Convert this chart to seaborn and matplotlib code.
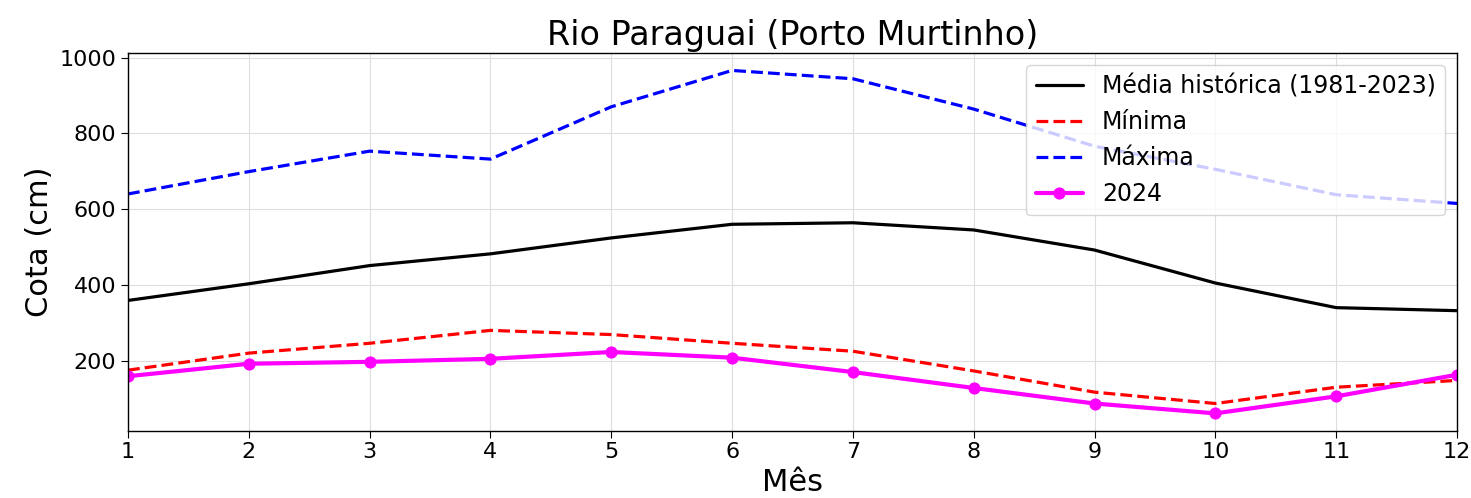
import matplotlib
matplotlib.use("Agg")
import matplotlib.pyplot as plt
import numpy as np
import pandas as pd
import seaborn as sns

# Monthly water level (cm) at Porto Murtinho
meses = list(range(1, 13))
media = [359, 403, 451, 482, 524, 560, 564, 545, 492, 405, 340, 332]
minima = [175, 220, 246, 280, 269, 246, 225, 173, 117, 87, 130, 148]
maxima = [640, 699, 753, 732, 870, 966, 944, 864, 766, 705, 638, 615]
ano_2024 = [159, 192, 197, 205, 223, 208, 170, 128, 87, 61, 106, 163]

df = pd.DataFrame({
    "mes": meses,
    "media": media,
    "minima": minima,
    "maxima": maxima,
    "2024": ano_2024,
})

sns.set_style("ticks")
plt.rcParams["font.family"] = ["DejaVu Sans"]
plt.rcParams["text.color"] = "black"
plt.rcParams["axes.labelcolor"] = "black"

fig, ax = plt.subplots(figsize=(14.71, 4.98), dpi=100)
fig.subplots_adjust(left=0.087, right=0.9905, top=0.893, bottom=0.1355)

sns.lineplot(data=df, x="mes", y="media", color="black", linewidth=2.3,
             label="Média histórica (1981-2023)", ax=ax)
sns.lineplot(data=df, x="mes", y="minima", color="red", linewidth=2.3,
             linestyle="--", label="Mínima", ax=ax)
sns.lineplot(data=df, x="mes", y="maxima", color="blue", linewidth=2.3,
             linestyle="--", label="Máxima", ax=ax)
sns.lineplot(data=df, x="mes", y="2024", color="magenta", linewidth=3,
             marker="o", markersize=8, markeredgecolor="magenta", label="2024", ax=ax)

ax.set_xlim(1, 12)
ax.set_xticks(meses)
ax.set_title("Rio Paraguai (Porto Murtinho)", fontsize=24, color="black")
ax.set_xlabel("Mês", fontsize=22, color="black")
ax.set_ylabel("Cota (cm)", fontsize=22, color="black")
ax.tick_params(axis="both", labelsize=16, colors="black", direction="out", length=5)
ax.grid(True, color="#dddddd", linewidth=0.8)
for s in ax.spines.values():
    s.set_color("black")
    s.set_linewidth(1.0)

leg = ax.legend(loc="upper right", fontsize=17, framealpha=0.8)
for t in leg.get_texts():
    t.set_color("black")

plt.savefig("out.png", dpi=100)
